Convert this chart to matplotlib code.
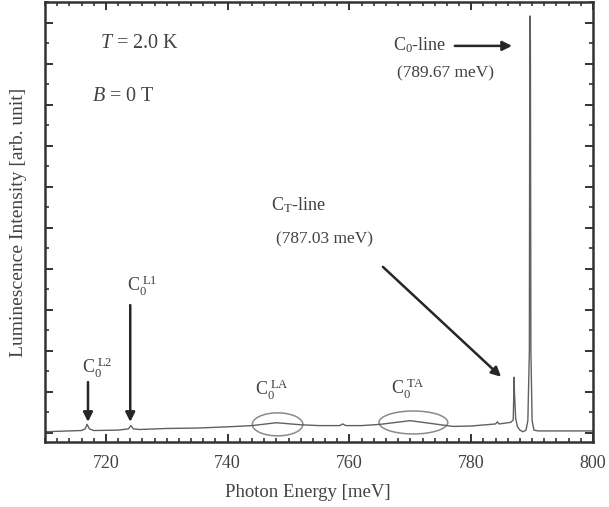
import matplotlib
matplotlib.use("Agg")
import matplotlib.pyplot as plt
from matplotlib.patches import Ellipse
from matplotlib.ticker import MultipleLocator

plt.rcParams['font.family'] = ['Liberation Serif', 'DejaVu Serif']
plt.rcParams['mathtext.fontset'] = 'custom'
plt.rcParams['mathtext.rm'] = 'Liberation Serif'
plt.rcParams['mathtext.it'] = 'Liberation Serif:italic'

# spectrum (meV, arb. units)
energy = [710.0, 714.0, 716.0, 716.6, 716.9, 717.3, 718.0, 722.0, 723.7, 724.1,
          724.5, 725.5, 730.0, 735.0, 740.0, 744.0, 748.0, 752.0, 755.0, 758.4,
          758.9, 759.4, 762.0, 765.0, 770.0, 774.0, 777.0, 780.0, 784.0, 784.3,
          784.6, 786.5, 786.9, 787.0, 787.03, 787.1, 787.3, 787.6, 788.0, 788.5,
          789.0, 789.3, 789.55, 789.62, 789.67, 789.72, 789.8, 790.0, 790.3, 791.0,
          795.0, 800.0]
intensity = [0.03, 0.05, 0.06, 0.10, 0.21, 0.10, 0.06, 0.07, 0.10, 0.18,
             0.10, 0.085, 0.11, 0.12, 0.15, 0.18, 0.25, 0.20, 0.18, 0.18,
             0.22, 0.18, 0.18, 0.21, 0.30, 0.22, 0.16, 0.17, 0.22, 0.27,
             0.22, 0.26, 0.32, 1.00, 1.36, 1.00, 0.35, 0.15, 0.07, 0.03,
             0.07, 0.30, 2.00, 9.50, 10.17, 9.50, 2.00, 0.30, 0.07, 0.05,
             0.05, 0.05]

text_c = '#424242'
arrow_c = '#262626'

fig = plt.figure(figsize=(6.09, 5.07), dpi=100)
ax = fig.add_axes([45 / 609, 65 / 507, 548 / 609, 440 / 507])

ax.plot(energy, intensity, color='#606060', lw=1.0)

ax.set_xlim(710, 800)
ax.set_ylim(-0.22, 10.51)
ax.xaxis.set_major_locator(MultipleLocator(20))
ax.xaxis.set_minor_locator(MultipleLocator(2))
ax.yaxis.set_major_locator(MultipleLocator(1))
ax.yaxis.set_minor_locator(MultipleLocator(0.5))
ax.tick_params(which='both', direction='in', top=True, right=True,
               color='#333333', labelcolor=text_c, labelsize=13, pad=9)
ax.tick_params(which='major', length=6, width=1.4)
ax.tick_params(which='minor', length=3, width=1.2)
ax.tick_params(axis='y', labelleft=False)
for s in ax.spines.values():
    s.set_linewidth(1.8)
    s.set_color('#333333')

ax.set_xlabel('Photon Energy [meV]', fontsize=13.5, color=text_c)
ax.xaxis.set_label_coords(0.48, -0.095)
ax.set_ylabel('Luminescence Intensity [arb. unit]', fontsize=14, color=text_c)
ax.yaxis.set_label_coords(-0.032, 0.5)

# conditions
ax.text(719.0, 9.51, r'$\mathit{T}$ = 2.0 K', fontsize=14.5, color=text_c, va='center')
ax.text(717.7, 8.20, r'$\mathit{B}$ = 0 T', fontsize=14.5, color=text_c, va='center')

# line labels
ax.text(767.2, 9.46, r'$\mathrm{C}_0$-line', fontsize=13, color=text_c, va='center')
ax.text(767.8, 8.78, '(789.67 meV)', fontsize=12.5, color=text_c, va='center')
ax.text(747.1, 5.56, r'$\mathrm{C}_\mathrm{T}$-line', fontsize=13, color=text_c, va='center')
ax.text(748.0, 4.73, '(787.03 meV)', fontsize=12.5, color=text_c, va='center')

# phonon replicas
ax.text(716.1, 1.60, r'$\mathrm{C}_0^{\ \mathrm{L2}}$', fontsize=13, color=text_c, va='center')
ax.text(723.5, 3.60, r'$\mathrm{C}_0^{\ \mathrm{L1}}$', fontsize=13, color=text_c, va='center')
ax.text(744.5, 1.05, r'$\mathrm{C}_0^{\ \mathrm{LA}}$', fontsize=13, color=text_c, va='center')
ax.text(766.8, 1.07, r'$\mathrm{C}_0^{\ \mathrm{TA}}$', fontsize=13, color=text_c, va='center')

arrow = dict(arrowstyle='-|>', lw=1.8, color=arrow_c, mutation_scale=14,
             shrinkA=0, shrinkB=0)
ax.annotate('', xy=(717.06, 0.27), xytext=(717.06, 1.24), arrowprops=arrow)
ax.annotate('', xy=(724.0, 0.27), xytext=(724.0, 3.12), arrowprops=arrow)
ax.annotate('', xy=(784.9, 1.37), xytext=(765.5, 4.05), arrowprops=arrow)
ax.annotate('', xy=(786.7, 9.44), xytext=(777.3, 9.44), arrowprops=arrow)

ax.add_patch(Ellipse((748.2, 0.21), 8.3, 0.56, fill=False, ec='#8a8a8a', lw=1.1))
ax.add_patch(Ellipse((770.5, 0.256), 11.3, 0.56, fill=False, ec='#8a8a8a', lw=1.1))

fig.savefig('out.png', dpi=100)
